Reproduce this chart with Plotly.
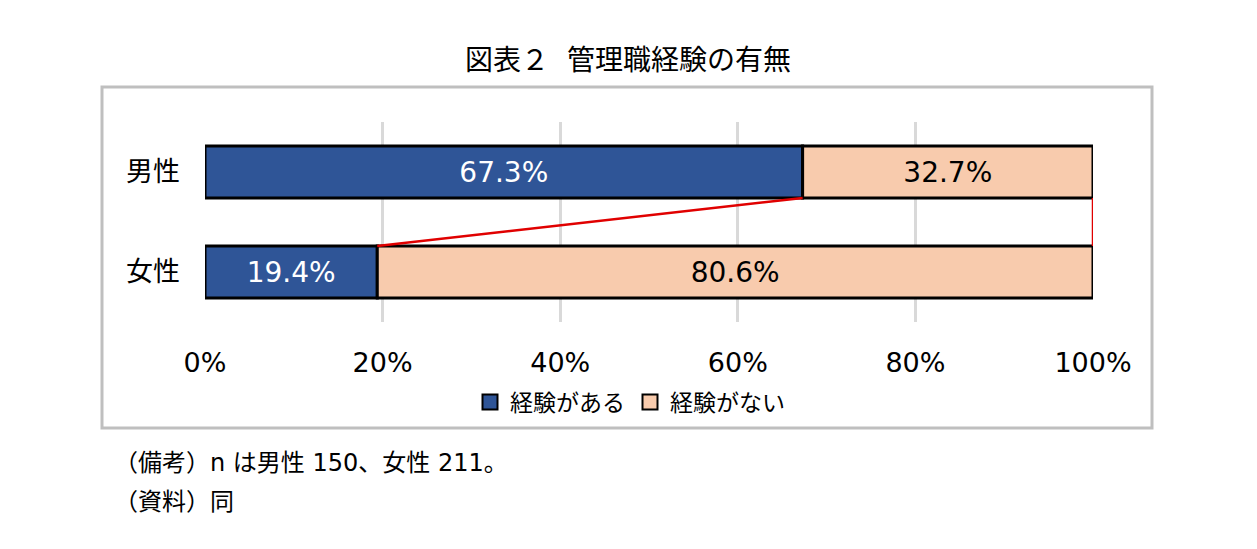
import plotly.graph_objects as go

categories = ["男性", "女性"]
cat_pos = [1, 0]
series_names = ["経験がある", "経験がない"]
series_colors = ["#2F5597", "#F8CBAD"]
experienced = [67.3, 19.4]
not_experienced = [32.7, 80.6]
tick_vals = [0, 20, 40, 60, 80, 100]
tick_text = ["0%", "20%", "40%", "60%", "80%", "100%"]

title_text = "図表２&nbsp;&nbsp;管理職経験の有無"
note_text = "（備考）n は男性 150、女性 211。"
source_text = "（資料）同"

FONT = "DejaVu Sans, Noto Sans CJK JP, sans-serif"
BAR_W = 0.52

# page body has an 8px margin, so work in page pixels and shift
OFF = 8
W, H = 1257 - 2 * OFF, 549 - 2 * OFF


def px(x):
    return (x - OFF) / W


def py(y):
    return 1 - (y - OFF) / H


fig = go.Figure()

fig.add_trace(go.Bar(
    y=cat_pos, x=experienced, name=series_names[0], orientation="h", width=BAR_W,
    marker=dict(color=series_colors[0], line=dict(color="black", width=3)),
    text=experienced, texttemplate="%{x:.1f}%", textposition="inside",
    insidetextanchor="middle", textangle=0, showlegend=False,
    textfont=dict(color="white", size=28, family=FONT),
))
fig.add_trace(go.Bar(
    y=cat_pos, x=not_experienced, name=series_names[1], orientation="h", width=BAR_W,
    base=experienced,
    marker=dict(color=series_colors[1], line=dict(color="black", width=3)),
    text=not_experienced, texttemplate="%{text:.1f}%", textposition="inside",
    insidetextanchor="middle", textangle=0, showlegend=False,
    textfont=dict(color="black", size=28, family=FONT),
))

# series lines between the two bars (Excel style)
ends_m = [experienced[0], experienced[0] + not_experienced[0]]
ends_f = [experienced[1], experienced[1] + not_experienced[1]]
lx, ly = [], []
for a, b in zip(ends_m, ends_f):
    lx += [a, b, None]
    ly += [cat_pos[0] - BAR_W / 2, cat_pos[1] + BAR_W / 2, None]
fig.add_trace(go.Scatter(x=lx, y=ly, mode="lines", showlegend=False, cliponaxis=False,
                         line=dict(color="#E00000", width=2.5), hoverinfo="skip"))

# legend entries with bigger square swatches
for name, col in zip(series_names, series_colors):
    fig.add_trace(go.Scatter(x=[None], y=[None], mode="markers", name=name,
                             marker=dict(symbol="square", size=15, color=col,
                                         line=dict(color="black", width=2))))

fig.update_layout(
    width=W, height=H,
    margin=dict(l=0, r=0, t=0, b=0),
    paper_bgcolor="white", plot_bgcolor="white",
    font=dict(family=FONT, color="black"),
    barmode="overlay",
    title=dict(text=title_text, x=px(628), y=py(60), xanchor="center", yanchor="middle",
               font=dict(size=28, family=FONT, color="black")),
    legend=dict(orientation="h", x=px(630), xanchor="center", y=py(402), yanchor="middle",
                font=dict(size=23, family=FONT), traceorder="normal",
                itemwidth=30, bgcolor="rgba(0,0,0,0)"),
    xaxis=dict(domain=[px(205), px(1093)], range=[0, 100], tickvals=tick_vals,
               ticktext=tick_text, showgrid=True, gridcolor="#D9D9D9", gridwidth=3,
               zeroline=False, showline=False, ticks="", automargin=False,
               tickfont=dict(size=27, family=FONT), ticklabelstandoff=22, fixedrange=True),
    yaxis=dict(domain=[py(322), py(122)], range=[-0.5, 1.5], tickvals=cat_pos,
               ticktext=categories, showgrid=False, zeroline=False, showline=False,
               ticks="", automargin=False, tickfont=dict(size=27, family=FONT),
               ticklabelstandoff=24, fixedrange=True),
    shapes=[dict(type="rect", xref="paper", yref="paper", x0=px(102), x1=px(1152),
                 y0=py(428), y1=py(87), line=dict(color="#BFBFBF", width=3),
                 fillcolor="rgba(0,0,0,0)", layer="below")],
    annotations=[
        dict(text=note_text, xref="paper", yref="paper", x=px(112), y=py(463),
             xanchor="left", yanchor="middle", showarrow=False, font=dict(size=24, family=FONT)),
        dict(text=source_text, xref="paper", yref="paper", x=px(112), y=py(502),
             xanchor="left", yanchor="middle", showarrow=False, font=dict(size=24, family=FONT)),
    ],
)

fig.write_html("out.html")
